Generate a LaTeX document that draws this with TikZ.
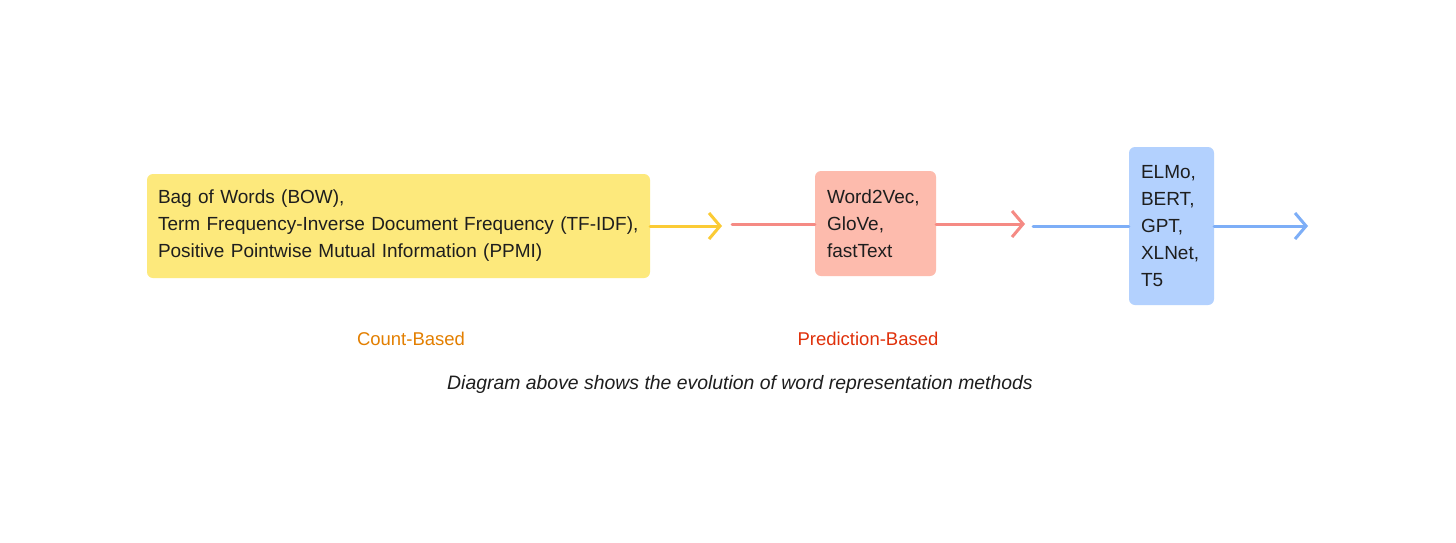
\documentclass[tikz,border=0pt]{standalone}
\usepackage{fontspec}
\setmainfont{Liberation Sans}
\usetikzlibrary{arrows.meta}
\definecolor{ybox}{HTML}{FDE97C}
\definecolor{yline}{HTML}{FBCB35}
\definecolor{rbox}{HTML}{FDBBAD}
\definecolor{rline}{HTML}{F58A84}
\definecolor{bbox}{HTML}{B3D1FE}
\definecolor{bline}{HTML}{7DAEF7}
\definecolor{txt}{HTML}{1E1E1E}
\definecolor{cntc}{HTML}{E37F00}
\definecolor{predc}{HTML}{E0300A}
\tikzset{
  boxnode/.style={rounded corners=6pt, inner xsep=11pt, inner ysep=0pt, align=left, text=txt,
    font=\fontsize{19}{27}\selectfont},
  conn/.style={line width=3pt, line cap=round},
  tipped/.style={conn, -{Straight Barb[length=11pt,width=26pt,line width=3pt]}},
  lbl/.style={font=\fontsize{18.5}{22}\selectfont}
}
\begin{document}
\begin{tikzpicture}[x=1pt,y=-1pt]
\useasboundingbox[fill=white] (0,0) rectangle (1456,542);
\node[boxnode, fill=ybox, minimum width=503pt, minimum height=104pt, text width=481pt] (yb) at (398.5,226)
  {Bag of Words (BOW),\\Term Frequency-Inverse Document Frequency (TF-IDF),\\Positive Pointwise Mutual Information (PPMI)};
\node[boxnode, fill=rbox, minimum width=121pt, minimum height=105pt, text width=97pt] (rb) at (875.5,223.5)
  {Word2Vec,\\GloVe,\\fastText};
\node[boxnode, fill=bbox, minimum width=85pt, minimum height=158pt, text width=61pt] (bb) at (1171.5,226)
  {ELMo,\\BERT,\\GPT,\\XLNet,\\T5};
\coordinate (yend) at (722,226);
\coordinate (rstart) at (732,224);
\coordinate (rend) at (1025,224);
\coordinate (bstart) at (1033,226);
\coordinate (bend) at (1308,226);
\draw[tipped, yline] (yb.east |- yend) -- (yend);
\draw[conn, rline] (rstart) -- (rb.west |- rstart);
\draw[tipped, rline] (rb.east |- rend) -- (rend);
\draw[conn, bline] (bstart) -- (bb.west |- bstart);
\draw[tipped, bline] (bb.east |- bend) -- (bend);
\node[lbl, text=cntc] (cnt) at (411,339) {Count-Based};
\node[lbl, text=predc] (pred) at (868,339) {Prediction-Based};
\node[lbl, text=txt, font=\fontsize{19.4}{22}\selectfont\itshape] (cap) at (740,384) {Diagram above shows the evolution of word representation methods};
\end{tikzpicture}
\end{document}
